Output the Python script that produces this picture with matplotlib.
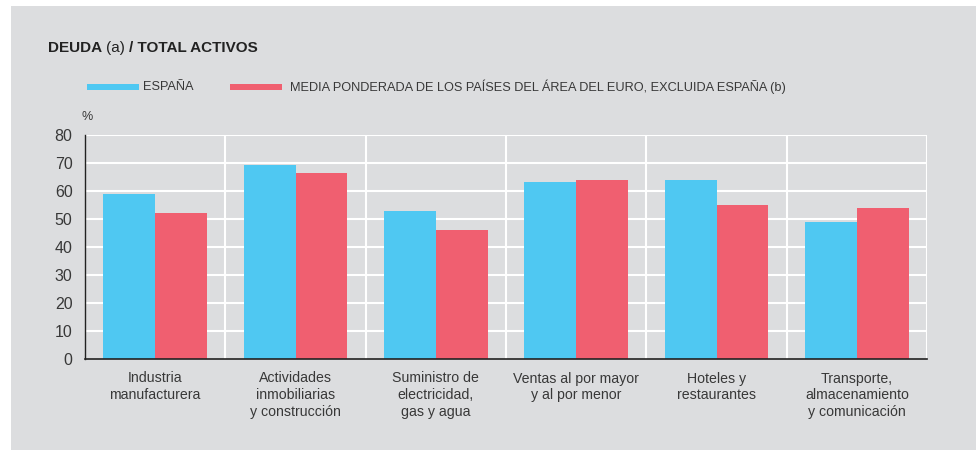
import numpy as np
import matplotlib.pyplot as plt
from matplotlib.patches import Rectangle

categories = [
    "Industria\nmanufacturera",
    "Actividades\ninmobiliarias\ny construcción",
    "Suministro de\nelectricidad,\ngas y agua",
    "Ventas al por mayor\ny al por menor",
    "Hoteles y\nrestaurantes",
    "Transporte,\nalmacenamiento\ny comunicación",
]
espana = [59.0, 69.4, 53.0, 63.3, 64.0, 49.0]
euro_area = [52.1, 66.4, 46.1, 63.9, 55.1, 53.8]
series_names = ["ESPAÑA",
                "MEDIA PONDERADA DE LOS PAÍSES DEL ÁREA DEL EURO, EXCLUIDA ESPAÑA (b)"]
yticks = [0, 10, 20, 30, 40, 50, 60, 70, 80]

BG = "#dcdddf"
BLUE = "#4fc8f2"
RED = "#f05f70"
TXT = "#383838"


def main():
    plt.rcParams['font.family'] = ['Liberation Sans', 'DejaVu Sans']

    fig = plt.figure(figsize=(9.76, 4.5), dpi=100)
    fig.patch.set_facecolor("white")
    # grey panel
    fig.patches.append(Rectangle((11 / 976, 0), 1, 1 - 6 / 450,
                                 transform=fig.transFigure,
                                 facecolor=BG, edgecolor="none", zorder=-10))

    ax = fig.add_axes([85 / 976, 1 - 359 / 450, (927 - 85) / 976, (359 - 135) / 450])
    ax.set_facecolor(BG)
    ax.set_zorder(1)

    x = np.arange(len(categories))
    w = 0.37
    ax.bar(x - w / 2, espana, width=w, color=BLUE, zorder=3)
    ax.bar(x + w / 2, euro_area, width=w, color=RED, zorder=3)

    ax.set_xlim(-0.5, len(categories) - 0.5)
    ax.set_ylim(0, 80)
    ax.set_yticks(yticks)
    ax.set_yticklabels([str(v) for v in yticks], fontsize=11.5, color=TXT)
    ax.set_xticks(x)
    ax.set_xticklabels(categories, fontsize=10.2, color=TXT, linespacing=1.25)
    ax.tick_params(axis="both", length=0)
    ax.tick_params(axis="y", pad=9)
    ax.tick_params(axis="x", pad=9)

    for v in yticks[1:]:
        ax.axhline(v, color="white", lw=1.5, zorder=1)
    for b in np.arange(0.5, len(categories), 1.0):
        ax.axvline(b, color="white", lw=1.5, zorder=1)

    for s in ["top", "right"]:
        ax.spines[s].set_visible(False)
    ax.spines["left"].set_color("#222222")
    ax.spines["bottom"].set_color("#222222")
    ax.spines["left"].set_linewidth(1.0)
    ax.spines["bottom"].set_linewidth(1.2)
    ax.spines["left"].set_zorder(4)
    ax.spines["bottom"].set_zorder(4)

    # title
    t1 = fig.text(48 / 976, 1 - 48 / 450, "DEUDA", fontsize=11, fontweight="bold",
                  color="#222222", va="center")
    a = ax.annotate("(a)", xy=(1, 0.5), xycoords=t1, xytext=(3, 0),
                    textcoords="offset points", fontsize=11, color="#222222",
                    va="center", ha="left", annotation_clip=False)
    ax.annotate("/ TOTAL ACTIVOS", xy=(1, 0.5), xycoords=a, xytext=(3, 0),
                textcoords="offset points", fontsize=11, fontweight="bold",
                color="#222222", va="center", ha="left", annotation_clip=False)

    # legend
    fig.patches.append(Rectangle((87 / 976, 1 - 90 / 450), 52 / 976, 6 / 450,
                                 transform=fig.transFigure, facecolor=BLUE,
                                 edgecolor="none"))
    fig.text(143 / 976, 1 - 87 / 450, series_names[0], fontsize=9.2, color=TXT,
             va="center")
    fig.patches.append(Rectangle((230 / 976, 1 - 90 / 450), 52 / 976, 6 / 450,
                                 transform=fig.transFigure, facecolor=RED,
                                 edgecolor="none"))
    fig.text(290 / 976, 1 - 87 / 450, series_names[1], fontsize=9.2, color=TXT,
             va="center")

    fig.text(82 / 976, 1 - 117 / 450, "%", fontsize=9, color=TXT, va="center")

    fig.savefig("out.png", dpi=100, facecolor=fig.get_facecolor())


if __name__ == "__main__":
    main()
